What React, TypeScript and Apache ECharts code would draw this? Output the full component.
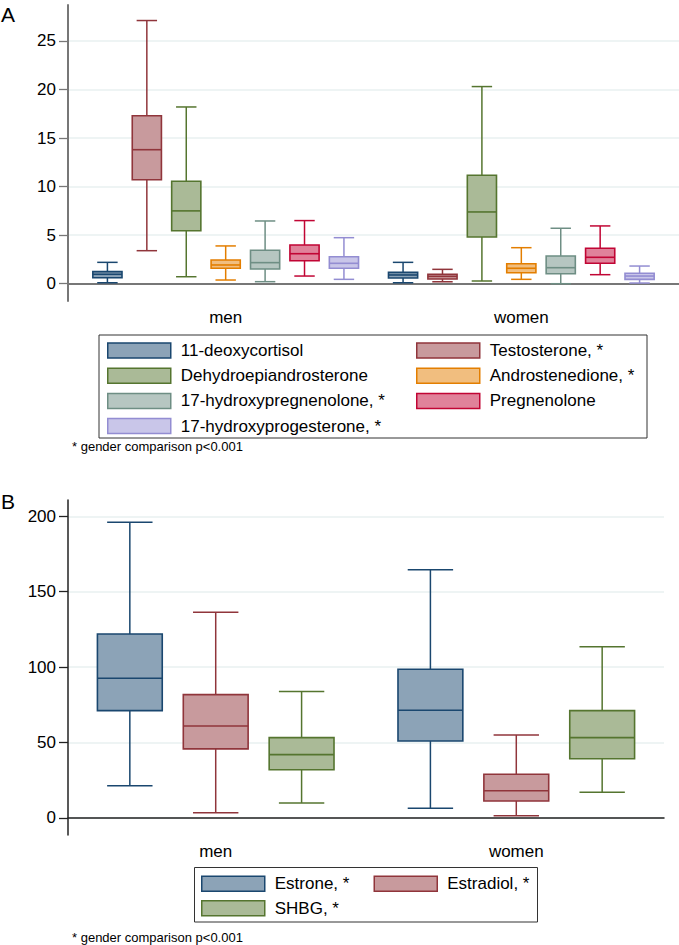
import React, { useEffect, useRef } from "react";
import * as echarts from "echarts";

// ---------- Data ----------
const groups = ["men", "women"];

const hormonesA = [
  "11-deoxycortisol",
  "Testosterone, *",
  "Dehydroepiandrosterone",
  "Androstenedione, *",
  "17-hydroxypregnenolone, *",
  "Pregnenolone",
  "17-hydroxyprogesterone, *",
];
// [min, Q1, median, Q3, max]
const menA = [
  [0.1, 0.62, 0.97, 1.24, 2.2],
  [3.4, 10.7, 13.8, 17.3, 27.1],
  [0.72, 5.46, 7.5, 10.55, 18.2],
  [0.38, 1.59, 1.93, 2.44, 3.89],
  [0.21, 1.52, 2.17, 3.44, 6.46],
  [0.79, 2.37, 3.09, 3.99, 6.5],
  [0.45, 1.59, 2.1, 2.78, 4.74],
];
const womenA = [
  [0.1, 0.59, 0.9, 1.17, 2.2],
  [0.2, 0.48, 0.76, 0.97, 1.48],
  [0.28, 4.81, 7.39, 11.17, 20.3],
  [0.45, 1.13, 1.59, 2.06, 3.71],
  [0.0, 1.03, 1.65, 2.86, 5.71],
  [0.93, 2.1, 2.72, 3.65, 5.95],
  [0.07, 0.45, 0.79, 1.07, 1.82],
];
const ticksA = [0, 5, 10, 15, 20, 25];

const hormonesB = ["Estrone, *", "Estradiol, *", "SHBG, *"];
const menB = [
  [21.4, 71.2, 92.6, 122, 196],
  [3.5, 45.8, 61, 81.8, 136.4],
  [10, 32, 42, 53.3, 83.8],
];
const womenB = [
  [6.4, 51, 71.4, 98.6, 164.5],
  [1.5, 11.3, 18.1, 29, 55],
  [17, 39.3, 53.3, 71.2, 113.6],
];
const ticksB = [0, 50, 100, 150, 200];

const footnote = "* gender comparison p<0.001";

// ---------- Styles ----------
const strokeA = ["#1a476f", "#90353b", "#55752f", "#e37e00", "#6e8e84", "#c10534", "#938dd2"];
const fillA = ["#8ca3b7", "#c89a9d", "#aaba97", "#f1be7f", "#b6c6c1", "#e0829a", "#c9c6e9"];
const strokeB = ["#1a476f", "#90353b", "#55752f"];
const fillB = ["#8ca3b7", "#c89a9d", "#aaba97"];

const FONT = "'Liberation Sans', Arial, Helvetica, sans-serif";
const FS = 17;

// layout in box-slot units
const layoutA = { outer: 1, groupGap: 1.5, box: 0.74 };
const layoutB = { outer: 0.72, groupGap: 1.5, box: 0.755 };

function slotX(layout: any, n: number, g: number, i: number) {
  return layout.outer + g * (n - 1 + layout.groupGap) + i;
}
function groupCenter(layout: any, n: number, g: number) {
  return layout.outer + g * (n - 1 + layout.groupGap) + (n - 1) / 2;
}
function axisMax(layout: any, n: number) {
  return 2 * layout.outer + 2 * (n - 1) + layout.groupGap;
}

function makeRender(stroke: string, fill: string, boxUnits: number) {
  return (params: any, api: any) => {
    const x = api.value(0);
    const lo = api.coord([x, api.value(1)]);
    const q1 = api.coord([x, api.value(2)]);
    const md = api.coord([x, api.value(3)]);
    const q3 = api.coord([x, api.value(4)]);
    const hi = api.coord([x, api.value(5)]);
    const bw = api.size([boxUnits, 0])[0];
    const cw = bw * 0.7;
    const cx = lo[0];
    const ls = { stroke, lineWidth: 1.5 };
    return {
      type: "group",
      children: [
        { type: "line", shape: { x1: cx, y1: hi[1], x2: cx, y2: q3[1] }, style: ls },
        { type: "line", shape: { x1: cx, y1: q1[1], x2: cx, y2: lo[1] }, style: ls },
        { type: "line", shape: { x1: cx - cw / 2, y1: hi[1], x2: cx + cw / 2, y2: hi[1] }, style: ls },
        { type: "line", shape: { x1: cx - cw / 2, y1: lo[1], x2: cx + cw / 2, y2: lo[1] }, style: ls },
        {
          type: "rect",
          shape: { x: cx - bw / 2, y: q3[1], width: bw, height: q1[1] - q3[1] },
          style: { fill, stroke, lineWidth: 1.6 },
        },
        { type: "line", shape: { x1: cx - bw / 2, y1: md[1], x2: cx + bw / 2, y2: md[1] }, style: { stroke, lineWidth: 1.6 } },
      ],
    };
  };
}

function buildSeries(names: string[], men: number[][], women: number[][], strokes: string[], fills: string[], layout: any, axisIdx: number) {
  const n = names.length;
  return names.map((name, i) => ({
    type: "custom",
    name,
    xAxisIndex: axisIdx,
    yAxisIndex: axisIdx,
    encode: { x: 0, y: [1, 2, 3, 4, 5] },
    renderItem: makeRender(strokes[i], fills[i], layout.box),
    data: [men[i], women[i]].map((v, g) => [slotX(layout, n, g, i), ...v]),
    silent: true,
  }));
}

function legendData(names: string[], idx: number[], strokes: string[], fills: string[]) {
  return idx.map((i) => ({
    name: names[i],
    icon: "rect",
    itemStyle: { color: fills[i], borderColor: strokes[i], borderWidth: 1.5 },
  }));
}

function xAxisFor(layout: any, n: number, gridIndex: number, axisColor: string, axisWidth: number) {
  const centers = groups.map((_, g) => groupCenter(layout, n, g));
  return {
    type: "value",
    gridIndex,
    min: 0,
    max: axisMax(layout, n),
    axisLine: { show: true, lineStyle: { color: axisColor, width: axisWidth } },
    axisTick: { show: false },
    splitLine: { show: false },
    axisLabel: {
      customValues: centers,
      formatter: (v: number) => {
        const k = centers.findIndex((c) => Math.abs(c - v) < 1e-6);
        return k >= 0 ? groups[k] : "";
      },
      color: "#000",
      fontFamily: FONT,
      fontSize: FS,
      margin: 8,
    },
  };
}

function yAxisFor(min: number, max: number, ticks: number[], gridIndex: number, axisColor: string, axisWidth: number) {
  return {
    type: "value",
    gridIndex,
    min,
    max,
    axisLine: { show: true, lineStyle: { color: axisColor, width: axisWidth } },
    axisTick: { show: true, customValues: ticks, length: 9, lineStyle: { color: axisColor, width: 1.3 } },
    axisLabel: {
      customValues: ticks,
      color: "#000",
      fontFamily: FONT,
      fontSize: FS,
      margin: 12,
    },
    splitLine: { show: true, lineStyle: { color: "#e8f0f1", width: 1.5 } },
  };
}

const legendText = { color: "#000", fontFamily: FONT, fontSize: FS, lineHeight: 16, padding: [0, 0, 0, 5] };

export default function App() {
  const ref = useRef<HTMLDivElement>(null);
  useEffect(() => {
    if (!ref.current) return;
    const chart = echarts.init(ref.current, undefined, { renderer: "svg" });
    const nA = hormonesA.length;
    const nB = hormonesB.length;
    const option: any = {
      animation: false,
      backgroundColor: "#fff",
      grid: [
        { left: 68, right: 0, top: 5, bottom: 644 },
        { left: 68, right: 15, top: 500, bottom: 110 },
      ],
      xAxis: [xAxisFor(layoutA, nA, 0, "#777", 2), xAxisFor(layoutB, nB, 1, "#222", 1.5)],
      yAxis: [yAxisFor(-1.78, 28.7, ticksA, 0, "#777", 2), yAxisFor(-11.27, 210.8, ticksB, 1, "#222", 1.5)],
      legend: [
        {
          orient: "vertical", left: 107, top: 342, padding: 0, itemWidth: 63, itemHeight: 15, itemGap: 8.2,
          selectedMode: false, textStyle: legendText,
          data: legendData(hormonesA, [0, 2, 4, 6], strokeA, fillA),
        },
        {
          orient: "vertical", left: 416, top: 342, padding: 0, itemWidth: 63, itemHeight: 15, itemGap: 8.2,
          selectedMode: false, textStyle: legendText,
          data: legendData(hormonesA, [1, 3, 5], strokeA, fillA),
        },
        {
          orient: "vertical", left: 201, top: 875.3, padding: 0, itemWidth: 63, itemHeight: 15, itemGap: 7.4,
          selectedMode: false, textStyle: legendText,
          data: legendData(hormonesB, [0, 2], strokeB, fillB),
        },
        {
          orient: "vertical", left: 373.5, top: 875.3, padding: 0, itemWidth: 63, itemHeight: 15, itemGap: 7.4,
          selectedMode: false, textStyle: legendText,
          data: legendData(hormonesB, [1], strokeB, fillB),
        },
      ],
      graphic: [
        { type: "rect", shape: { x: 99, y: 335, width: 548, height: 103 }, style: { fill: "none", stroke: "#333", lineWidth: 1 }, silent: true },
        { type: "rect", shape: { x: 194.5, y: 867.5, width: 343, height: 54.5 }, style: { fill: "none", stroke: "#333", lineWidth: 1 }, silent: true },
        { type: "text", x: 1, y: 14, style: { text: "A", font: `21px ${FONT}`, fill: "#000", textVerticalAlign: "middle" } },
        { type: "text", x: 1, y: 501, style: { text: "B", font: `21px ${FONT}`, fill: "#000", textVerticalAlign: "middle" } },
        { type: "text", x: 72, y: 446, style: { text: footnote, font: `13px ${FONT}`, fill: "#000", textVerticalAlign: "middle" } },
        { type: "text", x: 72, y: 937, style: { text: footnote, font: `13px ${FONT}`, fill: "#000", textVerticalAlign: "middle" } },
      ],
      series: [
        ...buildSeries(hormonesA, menA, womenA, strokeA, fillA, layoutA, 0),
        ...buildSeries(hormonesB, menB, womenB, strokeB, fillB, layoutB, 1),
      ],
    };
    chart.setOption(option);
    return () => chart.dispose();
  }, []);
  return (
    <div
      ref={ref}
      style={{ position: "fixed", left: 0, top: 0, width: 679, height: 945, background: "#fff" }}
    />
  );
}
